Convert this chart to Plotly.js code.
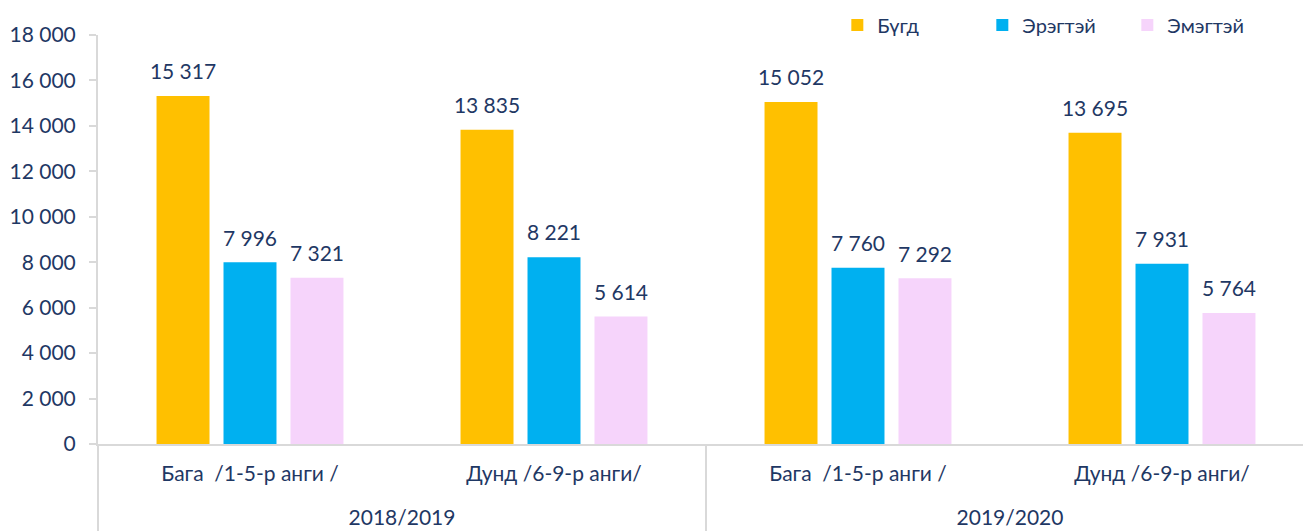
<!DOCTYPE html>
<html>
<head>
<meta charset="utf-8">
<script src="https://cdn.plot.ly/plotly-3.0.1.min.js"></script>
<style>html,body{margin:0;padding:0;background:#fff;overflow:hidden;}#chart{width:1314px;height:531px;}</style>
</head>
<body>
<div id="chart"></div>
<script>
const years = ["2018/2019", "2018/2019", "2019/2020", "2019/2020"];
const levels = ["Бага  /1-5-р анги /", "Дунд /6-9-р анги/", "Бага  /1-5-р анги /", "Дунд /6-9-р анги/"];
const seriesNames = ["Бүгд", "Эрэгтэй", "Эмэгтэй"];
const total = [15317, 13835, 15052, 13695];
const male = [7996, 8221, 7760, 7931];
const female = [7321, 5614, 7292, 5764];
const colors = ["#FFC000", "#00B0F0", "#F6D4FB"];
const yTicks = [0, 2000, 4000, 6000, 8000, 10000, 12000, 14000, 16000, 18000];

const textColor = "#1F3864";
const fontFamily = "Lato, 'Open Sans', sans-serif";
const values = [total, male, female];
const levelLabels = levels.map(s => s + "<br> ");

const traces = values.map((v, i) => ({
  type: "bar",
  name: seriesNames[i],
  x: [years, levelLabels],
  y: v,
  marker: {color: colors[i]},
  texttemplate: '<span style="font-size:21px">%{y:,}</span><br> ',
  textposition: "outside",
  constraintext: "none",
  cliponaxis: false,
  textfont: {color: textColor, size: 9, family: fontFamily},
  hoverinfo: "skip"
}));

const layout = {
  width: 1314, height: 531,
  margin: {l: 98, r: 0, t: 35, b: 87, autoexpand: false},
  barmode: "group",
  bargap: 0.339,
  bargroupgap: 0.209,
  separators: ". ",
  paper_bgcolor: "#fff",
  plot_bgcolor: "#fff",
  font: {family: fontFamily, color: textColor, size: 21},
  showlegend: true,
  legend: {
    orientation: "h", x: 0.608, xanchor: "left", y: 0.953, yanchor: "middle", yref: "container",
    font: {size: 20, color: textColor, family: fontFamily},
    itemwidth: 30, entrywidth: 100, tracegroupgap: 0
  },
  xaxis: {
    type: "multicategory",
    showline: true, linecolor: "#D9D9D9", linewidth: 2,
    showdividers: true, dividercolor: "#D9D9D9", dividerwidth: 2,
    ticks: "", ticklabelstandoff: 10,
    tickfont: {size: 21, color: textColor, family: fontFamily},
    showgrid: false, zeroline: false
  },
  yaxis: {
    range: [0, 18000],
    tickvals: yTicks,
    tickformat: ",",
    showline: true, linecolor: "#D9D9D9", linewidth: 2,
    ticks: "outside", ticklen: 7, tickcolor: "#D9D9D9", tickwidth: 2,
    ticklabelstandoff: 9,
    tickfont: {size: 21, color: textColor, family: fontFamily},
    showgrid: false, zeroline: false
  }
};

Plotly.newPlot("chart", traces, layout, {displayModeBar: false, staticPlot: true});
</script>
</body>
</html>
